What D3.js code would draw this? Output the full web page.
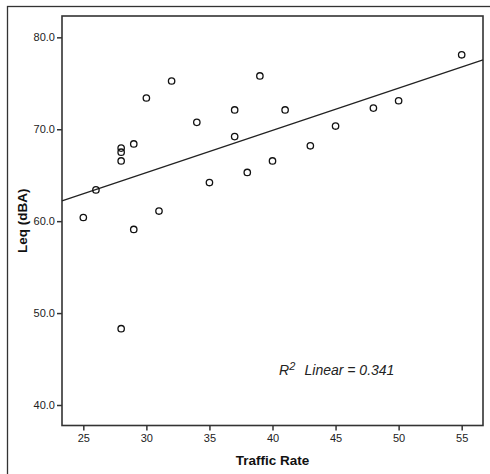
<!DOCTYPE html>
<html><head><meta charset="utf-8">
<script src="https://cdn.jsdelivr.net/npm/d3@7"></script>
<style>
html,body{margin:0;padding:0;background:#fff;}
svg{display:block;font-family:"Liberation Sans",Arial,sans-serif;}
</style></head>
<body><svg id="chart" width="490" height="474"></svg>
<script>
const trafficRate = [55,32,39,30,37,41,48,50,34,37,45,43,29,28,28,28,40,26,25,29,31,35,38,28];
const leq = [78.1,75.25,75.8,73.4,72.1,72.1,72.3,73.1,70.75,69.2,70.35,68.2,68.4,67.95,67.5,66.55,66.55,63.4,60.4,59.1,61.1,64.2,65.3,48.3];
const xTicks = [25,30,35,40,45,50,55];
const yTicks = [40,50,60,70,80];
const xDomain = [23.31,56.69];
const yDomain = [37.77,82.32];
const xTitle = "Traffic Rate";
const yTitle = "Leq (dBA)";
const r2Value = "0.341";

const svg = d3.select("#chart");
const m = {left:62, top:16, right:483, bottom:425.5};
const x = d3.scaleLinear().domain(xDomain).range([m.left,m.right]);
const y = d3.scaleLinear().domain(yDomain).range([m.bottom,m.top]);

// outer frame (right/bottom fall outside the picture)
svg.append("rect").attr("x",7.5).attr("y",6.5).attr("width",520).attr("height",520)
  .attr("fill","none").attr("stroke","#333").attr("stroke-width",1.3);

// plot frame
svg.append("rect").attr("x",m.left).attr("y",m.top).attr("width",m.right-m.left).attr("height",m.bottom-m.top)
  .attr("fill","#fff").attr("stroke","#333").attr("stroke-width",1.6);

const xa = svg.append("g").attr("transform",`translate(0,${m.bottom})`)
  .call(d3.axisBottom(x).tickValues(xTicks).tickFormat(d3.format("d")).tickSize(5).tickSizeOuter(0).tickPadding(4));
const ya = svg.append("g").attr("transform",`translate(${m.left},0)`)
  .call(d3.axisLeft(y).tickValues(yTicks).tickFormat(d3.format(".1f")).tickSize(5).tickSizeOuter(0).tickPadding(2));
[xa,ya].forEach(g=>{
  g.select(".domain").remove();
  g.selectAll(".tick line").attr("stroke","#333").attr("stroke-width",1.5);
  g.selectAll(".tick text").attr("fill","#222").style("font-size","11px").style("font-family","'Liberation Sans',Arial,sans-serif");
});

// regression (least squares)
const n = trafficRate.length;
const mx = d3.mean(trafficRate), my = d3.mean(leq);
let sxy=0,sxx=0;
for(let i=0;i<n;i++){ sxy+=(trafficRate[i]-mx)*(leq[i]-my); sxx+=(trafficRate[i]-mx)**2; }
const slope = sxy/sxx, intercept = my - slope*mx;
svg.append("line")
  .attr("x1",x(xDomain[0])).attr("y1",y(intercept+slope*xDomain[0]))
  .attr("x2",x(xDomain[1])).attr("y2",y(intercept+slope*xDomain[1]))
  .attr("stroke","#222").attr("stroke-width",1.3);

// points
svg.append("g").selectAll("circle").data(trafficRate.map((d,i)=>[d,leq[i]])).join("circle")
  .attr("cx",d=>x(d[0])).attr("cy",d=>y(d[1])).attr("r",3.2)
  .attr("fill","none").attr("stroke","#111").attr("stroke-width",1.3);

// annotation
const t = svg.append("text").attr("x",279).attr("y",374.5).attr("fill","#222")
  .style("font-size","14px").style("font-style","italic");
t.append("tspan").text("R");
t.append("tspan").attr("dy",-4.5).style("font-size","11px").text("2");
t.append("tspan").attr("dy",4.5).attr("x",304.5).text("Linear = " + r2Value);

// titles
svg.append("text").attr("x",(m.left+m.right)/2).attr("y",465).attr("text-anchor","middle")
  .style("font-size","13.5px").style("font-weight","bold").attr("fill","#111").text(xTitle);
svg.append("text").attr("transform",`translate(27,${(m.top+m.bottom)/2}) rotate(-90)`).attr("text-anchor","middle")
  .style("font-size","13.5px").style("font-weight","bold").attr("fill","#111").text(yTitle);
</script></body></html>
